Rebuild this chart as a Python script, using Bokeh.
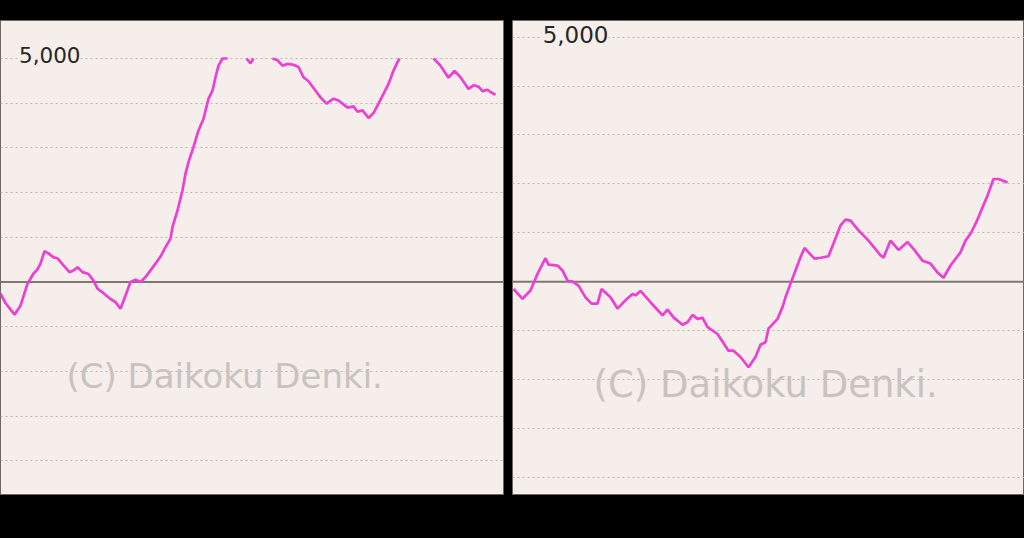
from bokeh.plotting import figure
from bokeh.layouts import row
from bokeh.models import Range1d, Grid, FixedTicker, Span, Label, ColumnDataSource
from bokeh.embed import file_html
from bokeh.resources import INLINE

nan = float("nan")

# ---------------- data ----------------
grid_ticks = [-5000, -4000, -3000, -2000, -1000, 1000, 2000, 3000, 4000, 5000]
zero_line = 0
top_label = "5,000"
watermark = "(C) Daikoku Denki."

# left chart (hidden where the line runs above the 5,000 ceiling)
left_games = [0, 5, 14, 20, 27, 33, 37, 40, 44, 48, 53, 57, 63, 69, 73, 77, 82, 88, 93, 97,
              103, 110, 115, 120, 125, 130, 135, 140, 145, 150, 155, 160, 165, 170, 172, 177,
              182, 185, 188, 193, 198, 203, 208, 212, 215, 218, 222, 227, 236, 246, 250, 253,
              262, 272, 277, 282, 287, 293, 298, 303, 308, 313, 320, 326, 333, 338, 347, 353,
              357, 362, 368, 373, 378, 383, 388, 393, 397, 399, 416, 433, 440, 448, 454, 460,
              468, 473, 478, 482, 487, 490, 495]
left_diff = [-260, -470, -730, -530, -40, 190, 280, 410, 690, 640, 550, 530, 370, 220, 260, 330,
             220, 180, 30, -150, -250, -380, -450, -600, -300, 0, 50, 0, 110, 260, 410, 570, 780,
             970, 1230, 1600, 2050, 2420, 2680, 3020, 3390, 3650, 4100, 4280, 4580, 4840, 5000,
             5000, nan, 5000, 4890, 5000, nan, 5000, 4960, 4840, 4880, 4860, 4810, 4580, 4490,
             4340, 4130, 3990, 4100, 4060, 3900, 3930, 3810, 3840, 3670, 3780, 3990, 4210, 4430,
             4730, 4920, 5000, nan, 5000, 4840, 4570, 4720, 4580, 4320, 4400, 4370, 4270, 4300,
             4250, 4190]

# right chart
right_games = [1, 10, 18, 25, 33, 36, 45, 50, 55, 60, 66, 73, 79, 85, 89, 98, 105, 113, 120, 123,
               128, 138, 150, 155, 161, 170, 175, 180, 185, 190, 195, 205, 216, 221, 228, 236, 243,
               248, 253, 256, 265, 270, 273, 278, 283, 288, 292, 296, 302, 308, 316, 321, 328, 333,
               338, 346, 356, 368, 371, 378, 386, 395, 401, 410, 418, 425, 431, 438, 448, 453, 458,
               463, 468, 475, 481, 486, 495]
right_diff = [-150, -350, -180, 160, 480, 350, 330, 230, 20, 0, -80, -320, -450, -450, -150, -320,
              -550, -380, -250, -280, -190, -420, -690, -570, -730, -880, -830, -680, -760, -740,
              -930, -1070, -1410, -1410, -1540, -1750, -1540, -1290, -1240, -960, -760, -520, -320,
              -40, 230, 500, 690, 600, 470, 490, 520, 780, 1150, 1270, 1250, 1050, 840, 540, 490,
              840, 650, 810, 670, 430, 370, 190, 80, 330, 600, 840, 980, 1180, 1420, 1760, 2100,
              2100, 2030]

# ---------------- style ----------------
BG = "#f5eeea"
LINE = "#ee3fd2"
GRID = "#bdb4af"
ZERO = "#7d7876"
TXT = "#262626"
WM = "#c9c3c0"


def panel(games, diffs, frame_w, border_r, x_max, y_lo, y_hi, lab_x, lab_size, wm_x, wm_size):
    p = figure(frame_width=frame_w, frame_height=474,
               min_border_left=0, min_border_right=border_r,
               min_border_top=20, min_border_bottom=44,
               x_range=Range1d(0, x_max), y_range=Range1d(y_lo, y_hi),
               x_axis_location=None, y_axis_location=None,
               toolbar_location=None, output_backend="svg",
               background_fill_color=BG, border_fill_color="black",
               outline_line_color="#6e6662", outline_line_width=1,
               styles={"background-color": "black"})
    p.grid.visible = False
    p.add_layout(Grid(dimension=1, ticker=FixedTicker(ticks=grid_ticks),
                      grid_line_color=GRID, grid_line_dash="2 3", grid_line_width=1))
    p.add_layout(Span(location=zero_line, dimension="width", line_color=ZERO,
                      line_width=2, level="underlay"))
    p.add_layout(Label(x=wm_x, x_units="screen", y=-2100, y_units="data", text=watermark,
                       text_font="DejaVu Sans", text_font_size=f"{wm_size}px",
                       text_color=WM, text_baseline="middle", text_align="left",
                       level="underlay"))
    src = ColumnDataSource(dict(games=games, diff=diffs))
    p.line(x="games", y="diff", source=src, line_color=LINE, line_width=2.7)
    p.add_layout(Label(x=lab_x, x_units="screen", y=5000, y_units="data", text=top_label,
                       text_font="DejaVu Sans", text_font_size=f"{lab_size}px",
                       text_color=TXT, text_align="right", text_baseline="middle",
                       y_offset=3, background_fill_color=BG))
    return p


p1 = panel(left_games, left_diff, 503, 9, 503, -4754, 5850, 80, 21.5, 66, 34)
p2 = panel(right_games, right_diff, 512, 0, 512, -4352, 5341, 96, 23, 81, 37)

layout = row(p1, p2, styles={"background-color": "black"})
html = file_html(layout, INLINE)
html = html.replace("<body>", '<body style="margin:0;background:#000;overflow:hidden">', 1)
open("out.html", "w").write(html)
